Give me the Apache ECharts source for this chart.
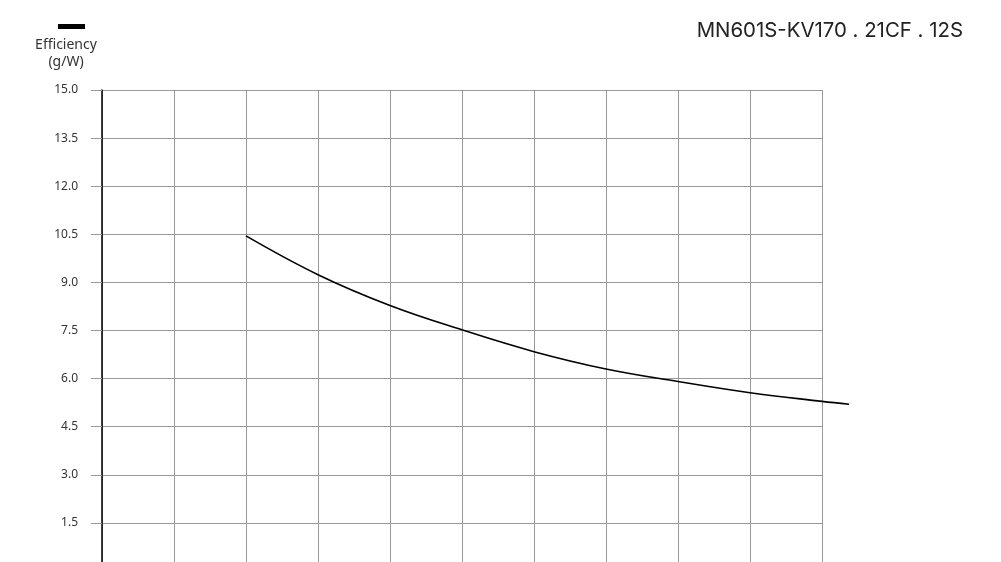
<!DOCTYPE html>
<html>
<head>
<meta charset="utf-8">
<script src="https://cdn.jsdelivr.net/npm/echarts@6/dist/echarts.min.js"></script>
<style>
  html, body { margin: 0; padding: 0; background: #fff; }
  #main { width: 1001px; height: 562px; }
</style>
</head>
<body>
<div id="main"></div>
<script>
// x positions (grid columns) and efficiency readings (g/W)
var loadSteps = [2, 3, 4, 5, 6, 7, 8, 9, 10, 10.375];
var efficiency = [10.45, 9.24, 8.28, 7.52, 6.84, 6.30, 5.91, 5.56, 5.29, 5.20];
var titleText = 'MN601S-KV170 . 21CF . 12S';
var yName = 'Efficiency\n(g/W)';

var gridGray = '#9a9a9a';
var xMax = 10, xLineMax = 10.375;

var chart = echarts.init(document.getElementById('main'));

var points = loadSteps.map(function (x, i) { return [x, efficiency[i]]; });

// the curve runs a bit past the last grid column, so it sits on a second,
// wider grid that shares the same pixel scale
var plotLeft = 102, plotTop = 90, plotH = 481, plotRight = 179;
var pxPerStep = (1001 - plotLeft - plotRight) / xMax;
var lineRight = 1001 - plotLeft - pxPerStep * xLineMax;

chart.setOption({
  animation: false,
  backgroundColor: '#fff',
  textStyle: { fontFamily: 'Noto Sans' },
  title: {
    text: titleText,
    right: 33,
    top: 16,
    textStyle: { fontSize: 20.4, fontWeight: 'normal', color: '#222', fontFamily: 'Inter' }
  },
  legend: {
    left: 53,
    top: 19,
    icon: 'rect',
    itemWidth: 27,
    itemHeight: 5,
    itemGap: 0,
    formatter: function () { return ''; },
    data: ['Efficiency']
  },
  grid: [
    { left: plotLeft, top: plotTop, right: plotRight, height: plotH, outerBoundsMode: 'none', containLabel: false },
    { left: plotLeft, top: plotTop, right: lineRight, height: plotH, outerBoundsMode: 'none', containLabel: false }
  ],
  xAxis: [{
    type: 'value',
    gridIndex: 0,
    min: 0,
    max: xMax,
    interval: 1,
    axisLine: { show: false },
    axisTick: { show: false },
    axisLabel: { show: false },
    splitLine: { show: true, lineStyle: { color: gridGray, width: 1 } }
  }, {
    type: 'value',
    gridIndex: 1,
    min: 0,
    max: xLineMax,
    show: false
  }],
  yAxis: [{
    type: 'value',
    gridIndex: 0,
    min: 0,
    max: 15,
    interval: 1.5,
    name: yName,
    nameLocation: 'end',
    nameGap: 19,
    nameTextStyle: {
      color: '#333',
      fontSize: 14,
      lineHeight: 17,
      align: 'center',
      padding: [0, 72, 0, 0]
    },
    axisLine: { show: true, lineStyle: { color: '#000', width: 1.5 } },
    axisTick: { show: true, length: 11, lineStyle: { color: gridGray, width: 1 } },
    axisLabel: {
      color: '#333',
      fontSize: 12,
      margin: 24,
      formatter: function (v) { return v.toFixed(1); }
    },
    splitLine: { show: true, lineStyle: { color: gridGray, width: 1 } }
  }, {
    type: 'value',
    gridIndex: 1,
    min: 0,
    max: 15,
    show: false
  }],
  series: [{
    name: 'Efficiency',
    type: 'line',
    xAxisIndex: 1,
    yAxisIndex: 1,
    data: points,
    smooth: 0.4,
    symbol: 'none',
    color: '#000',
    lineStyle: { color: '#000', width: 1.6 }
  }]
});
</script>
</body>
</html>
